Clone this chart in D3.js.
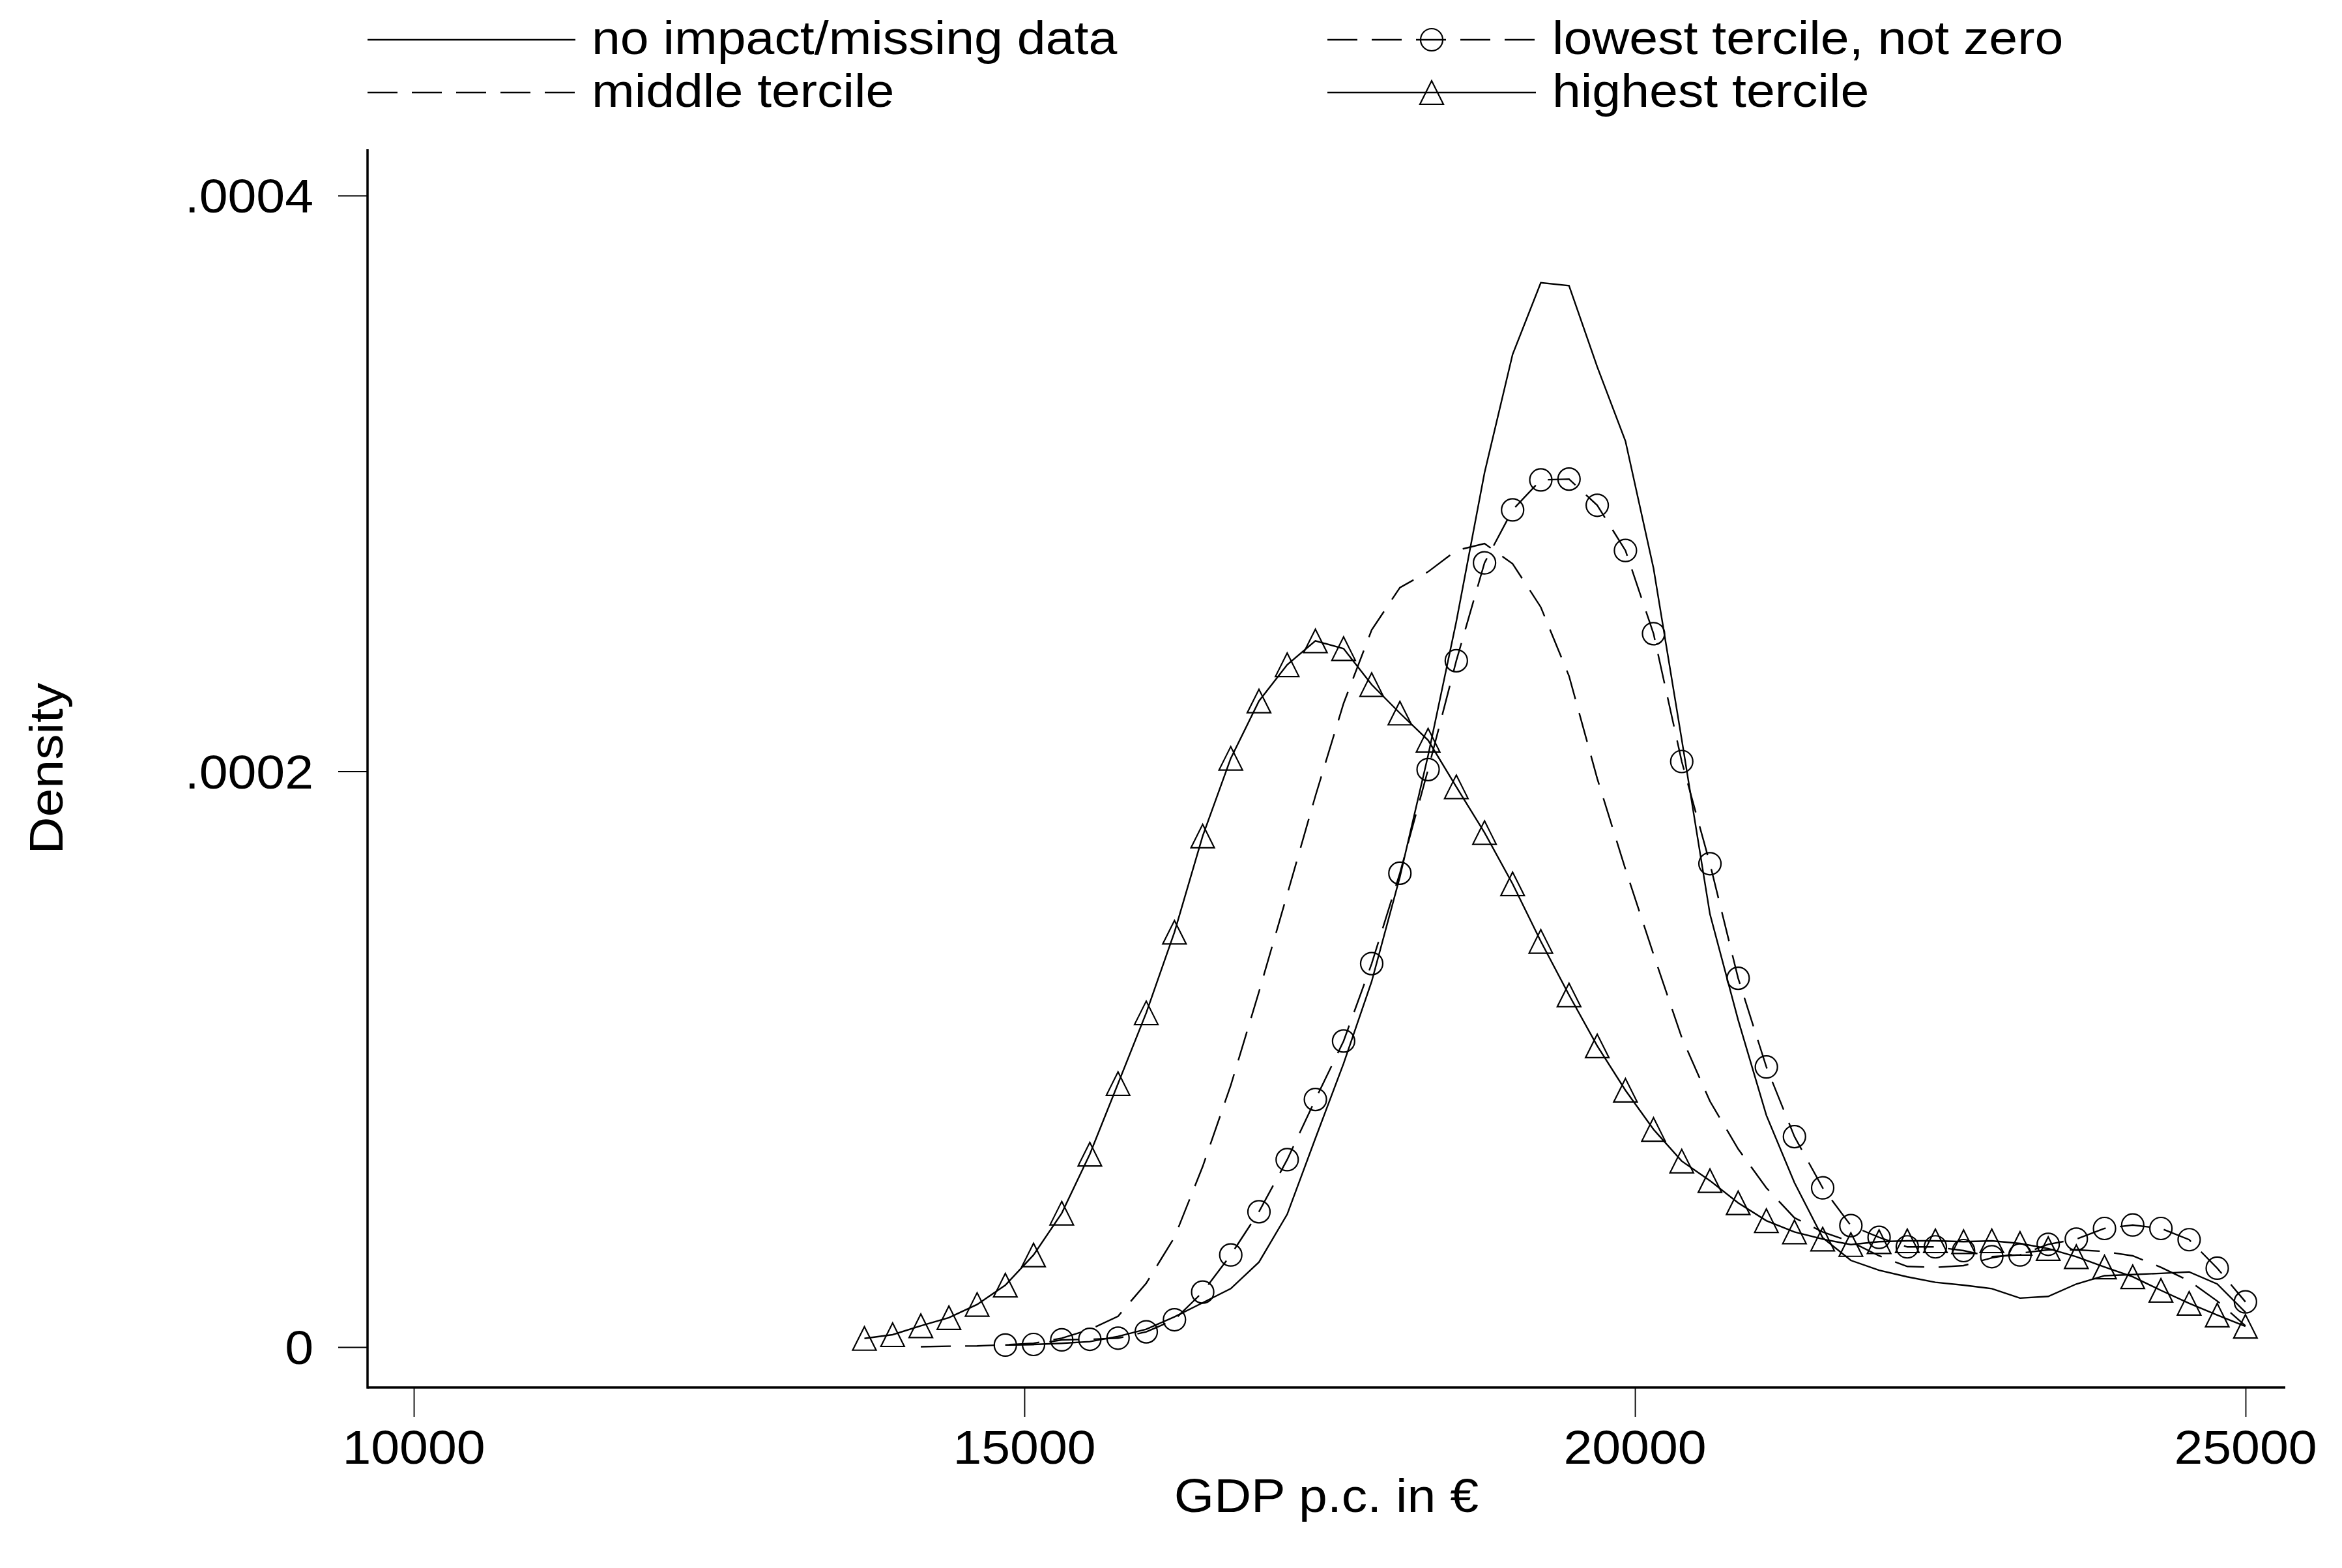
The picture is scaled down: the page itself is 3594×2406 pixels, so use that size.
<!DOCTYPE html>
<html>
<head>
<meta charset="utf-8">
<script src="https://cdn.jsdelivr.net/npm/d3@7"></script>
<style>
  html, body { margin: 0; padding: 0; background: #fff; }
  svg text { font-family: "Liberation Sans", Arial, sans-serif; fill: #000; }
</style>
</head>
<body>
<svg id="chart"></svg>
<script>
var W = 3594, H = 2406;

// evaluation grid of the kernel densities (GDP p.c. in €)
var gdp = [13690, 13921, 14152, 14382, 14613, 14844, 15075, 15306, 15536, 15767,
           15998, 16229, 16460, 16690, 16921, 17152, 17383, 17614, 17844, 18075,
           18306, 18537, 18768, 18998, 19229, 19460, 19691, 19922, 20152, 20383,
           20614, 20845, 21076, 21306, 21537, 21768, 21999, 22230, 22460, 22691,
           22922, 23153, 23384, 23614, 23845, 24076, 24307, 24538, 24768, 24999];

// densities, in units of 1e-4 ; each series starts at the grid index in its *Start var
var noImpactStart = 5;
var noImpact = [0.007, 0.009, 0.013, 0.019, 0.037, 0.062, 0.105, 0.154, 0.203, 0.295,
                0.461, 0.725, 0.985, 1.270, 1.633, 2.055, 2.520, 3.037, 3.448, 3.697,
                3.687, 3.405, 3.147, 2.705, 2.110, 1.504, 1.136, 0.805, 0.571, 0.380,
                0.301, 0.267, 0.244, 0.225, 0.215, 0.203, 0.170, 0.176, 0.219, 0.248,
                0.252, 0.256, 0.261, 0.219, 0.121];

var lowestStart = 5;
var lowest = [0.007, 0.009, 0.025, 0.027, 0.031, 0.053, 0.095, 0.191, 0.320, 0.470,
              0.651, 0.860, 1.063, 1.332, 1.646, 2.006, 2.384, 2.724, 2.908, 3.012,
              3.015, 2.924, 2.767, 2.478, 2.034, 1.679, 1.281, 0.973, 0.731, 0.553,
              0.422, 0.381, 0.348, 0.348, 0.335, 0.314, 0.320, 0.357, 0.375, 0.412,
              0.424, 0.412, 0.373, 0.274, 0.157];

var middleStart = 2;
var middle = [0.001, 0.003, 0.004, 0.008, 0.013, 0.031, 0.061, 0.107, 0.222, 0.381,
              0.627, 0.909, 1.234, 1.572, 1.914, 2.236, 2.491, 2.638, 2.693, 2.767,
              2.791, 2.721, 2.570, 2.331, 1.975, 1.660, 1.364, 1.075, 0.854, 0.688,
              0.553, 0.449, 0.400, 0.366, 0.317, 0.280, 0.277, 0.283, 0.310, 0.326,
              0.338, 0.338, 0.332, 0.317, 0.277, 0.230, 0.160, 0.074];

var highestStart = 0;
var highest = [0.030, 0.043, 0.074, 0.102, 0.148, 0.215, 0.320, 0.465, 0.670, 0.915,
               1.161, 1.441, 1.775, 2.045, 2.244, 2.370, 2.453, 2.426, 2.301, 2.202,
               2.108, 1.946, 1.787, 1.609, 1.409, 1.223, 1.046, 0.892, 0.756, 0.646,
               0.578, 0.501, 0.439, 0.400, 0.375, 0.356, 0.366, 0.369, 0.369, 0.366,
               0.369, 0.360, 0.342, 0.314, 0.278, 0.244, 0.197, 0.152, 0.111, 0.072];

var densityUnit = 1e-4;

var xTicks = [10000, 15000, 20000, 25000];
var yTicks = [0, 0.0002, 0.0004];
var yTickLabels = ["0", ".0002", ".0004"];

var legendLabels = ["no impact/missing data", "lowest tercile, not zero",
                    "middle tercile", "highest tercile"];

var fontSize = 73, stretch = 1.08;

var svg = d3.select("#chart")
  .attr("width", W)
  .attr("height", H);

svg.append("rect").attr("width", W).attr("height", H).attr("fill", "#fff");

var plot = {left: 564, right: 3507, top: 229, bottom: 2129};

var x = d3.scaleLinear().domain([10000, 25000]).range([635, 3446]);
var y = d3.scaleLinear().domain([0, 0.0004]).range([2067, 300]);

// slightly widened text, the reference glyphs are wider than plain Arial
function label(g, tx, ty, str, anchor, rot) {
  return g.append("text")
    .attr("transform", "translate(" + tx + "," + ty + ")" + (rot ? " rotate(" + rot + ")" : "") + " scale(" + stretch + ",1)")
    .attr("text-anchor", anchor)
    .style("font-size", fontSize + "px")
    .text(str);
}

// axes
var xAxis = svg.append("g").attr("transform", "translate(0," + plot.bottom + ")")
  .call(d3.axisBottom(x).tickValues(xTicks).tickSize(45).tickFormat(""));
var yAxis = svg.append("g").attr("transform", "translate(" + plot.left + ",0)")
  .call(d3.axisLeft(y).tickValues(yTicks).tickSize(45).tickFormat(""));
xAxis.select(".domain").remove();
yAxis.select(".domain").remove();
svg.selectAll(".tick line").attr("stroke", "#000").attr("stroke-width", 1.8);

svg.append("line")
  .attr("x1", plot.left).attr("x2", plot.right)
  .attr("y1", plot.bottom).attr("y2", plot.bottom)
  .attr("stroke", "#000").attr("stroke-width", 3.5);
svg.append("line")
  .attr("x1", plot.left).attr("x2", plot.left)
  .attr("y1", plot.top).attr("y2", plot.bottom + 1.75)
  .attr("stroke", "#000").attr("stroke-width", 3.5);

var labels = svg.append("g");
xTicks.forEach(function(t) {
  label(labels, x(t), 2246, String(t), "middle");
});
yTicks.forEach(function(t, i) {
  label(labels, 481, y(t) + fontSize * 0.36, yTickLabels[i], "end");
});
label(labels, (plot.left + plot.right) / 2, 2320, "GDP p.c. in \u20ac", "middle");
label(labels, 96, (plot.top + plot.bottom) / 2, "Density", "middle", -90);

// series
function rows(vals, start) {
  return vals.map(function(v, i) { return {x: gdp[start + i], d: v * densityUnit}; });
}

var series = [
  {name: legendLabels[0], data: rows(noImpact, noImpactStart), dash: null, marker: null},
  {name: legendLabels[1], data: rows(lowest, lowestStart), dash: "46,22", marker: "circle"},
  {name: legendLabels[2], data: rows(middle, middleStart), dash: "46,22", marker: null},
  {name: legendLabels[3], data: rows(highest, highestStart), dash: null, marker: "triangle"}
];

var line = d3.line()
  .x(function(d) { return x(d.x); })
  .y(function(d) { return y(d.d); });

var triPath = "M0,-18L18,18L-18,18Z";

function drawMarker(g, kind, cx, cy) {
  if (kind === "circle") {
    g.append("circle").attr("cx", cx).attr("cy", cy).attr("r", 17)
      .attr("fill", "none").attr("stroke", "#000").attr("stroke-width", 2.2);
  } else if (kind === "triangle") {
    g.append("path").attr("d", triPath)
      .attr("transform", "translate(" + cx + "," + cy + ")")
      .attr("fill", "none").attr("stroke", "#000").attr("stroke-width", 2.2);
  }
}

var lines = svg.append("g");
series.forEach(function(s) {
  lines.append("path")
    .datum(s.data)
    .attr("d", line)
    .attr("fill", "none")
    .attr("stroke", "#000")
    .attr("stroke-width", 2.4)
    .attr("stroke-dasharray", s.dash);
  if (s.marker) {
    var mg = lines.append("g");
    s.data.forEach(function(d) { drawMarker(mg, s.marker, x(d.x), y(d.d)); });
  }
});

// legend, two columns
var legendPos = [
  {x1: 564, x2: 883, y: 61},
  {x1: 2037, x2: 2357, y: 61},
  {x1: 564, x2: 883, y: 142},
  {x1: 2037, x2: 2357, y: 142}
];
var legend = svg.append("g");
series.forEach(function(s, i) {
  var p = legendPos[i];
  legend.append("line")
    .attr("x1", p.x1).attr("x2", p.x2).attr("y1", p.y).attr("y2", p.y)
    .attr("stroke", "#000").attr("stroke-width", 2.4)
    .attr("stroke-dasharray", s.dash);
  if (s.marker) drawMarker(legend, s.marker, (p.x1 + p.x2) / 2, p.y);
  label(legend, p.x2 + 25, p.y + 22, s.name, "start");
});
</script>
</body>
</html>
